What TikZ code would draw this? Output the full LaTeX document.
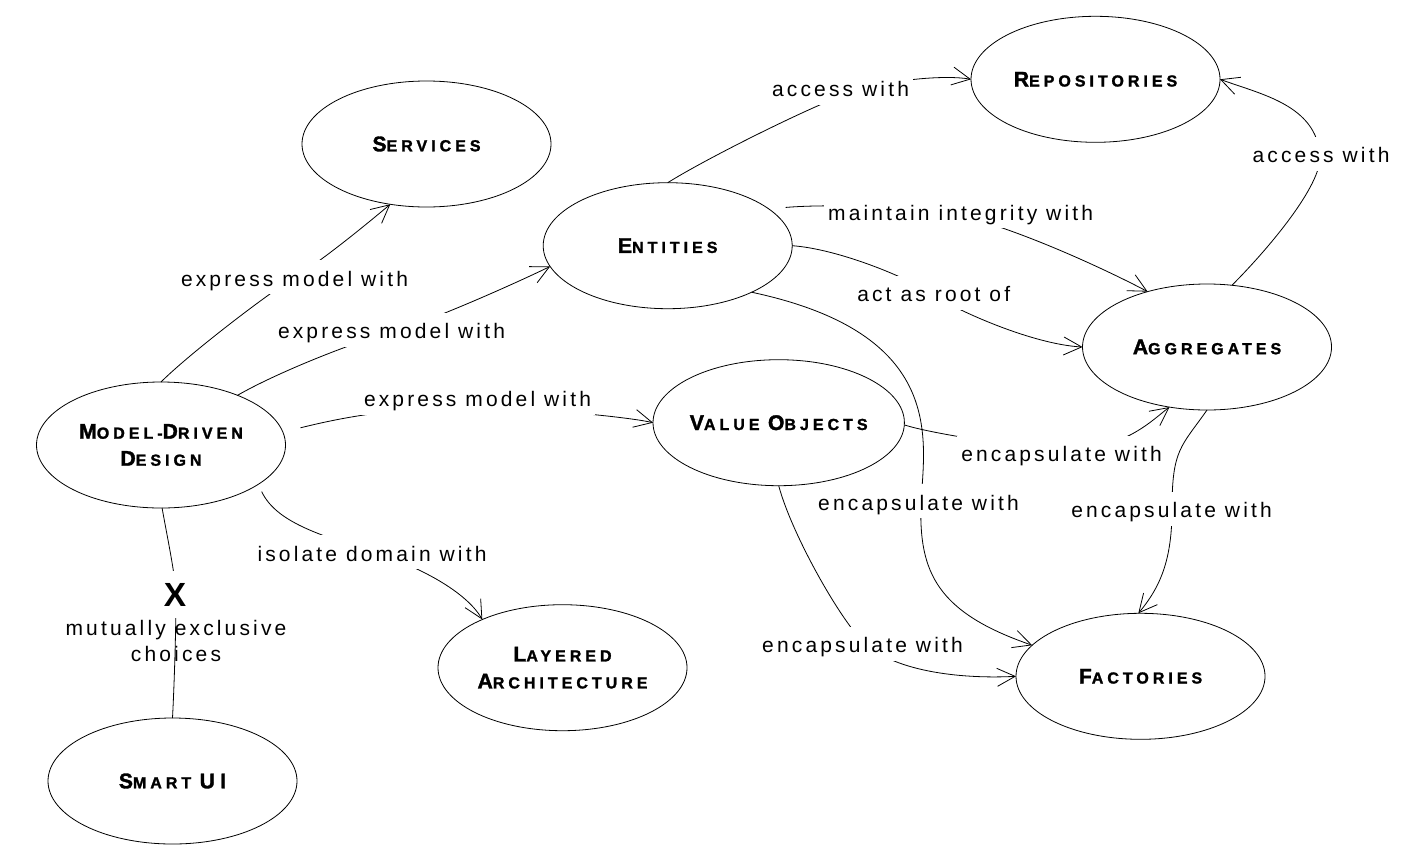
\documentclass[tikz,border=0pt]{standalone}
\usepackage{fontspec}
\setmainfont{Liberation Sans}
\newfontfamily\lblfont[LetterSpace=15]{Liberation Sans}
\newfontfamily\ttlfont[LetterSpace=25,FakeBold=1.6]{Liberation Sans Bold}
\usetikzlibrary{shapes.geometric,arrows.meta}
\pgfdeclarelayer{bg}
\pgfdeclarelayer{edges}
\pgfsetlayers{bg,edges,main}
\newcommand\BigCap[1]{{\fontsize{10.6pt}{12pt}\selectfont #1}}
\begin{document}
\begin{tikzpicture}[x=0.5pt,y=0.5pt,line width=0.5pt,
  concept/.style={ellipse, draw, minimum width=124.5pt, minimum height=63pt,
    inner sep=0pt, outer sep=0pt, align=center,
    font=\ttlfont\fontsize{8pt}{13.5pt}\selectfont},
  lblfnt/.style={font=\lblfont\fontsize{10.5pt}{13.35pt}\selectfont},
  lbl/.style={lblfnt, fill=white, inner xsep=2pt, inner ysep=3.5pt,
    text height=9.3pt, text depth=0.7pt, anchor=base},
  xmark/.style={font=\bfseries\fontsize{16.75pt}{18pt}\selectfont, fill=white,
    inner xsep=1pt, inner ysep=5.75pt, text height=12pt, text depth=0pt, anchor=base},
  arr/.style={-{Straight Barb[length=9pt,width=9pt]}}
]
\useasboundingbox (0,0) rectangle (1411,-862);
\begin{pgfonlayer}{bg}
\fill[white] (0,0) rectangle (1411,-862);
\end{pgfonlayer}

% concepts
\node[concept] (mdd) at (161,-445) {\BigCap{M}ODEL-\BigCap{D}RIVEN\\\BigCap{D}ESIGN};
\node[concept] (services) at (426.5,-144) {\BigCap{S}ERVICES};
\node[concept] (entities) at (667.7,-245.7) {\BigCap{E}NTITIES};
\node[concept] (repositories) at (1095.5,-79.3) {\BigCap{R}EPOSITORIES};
\node[concept] (aggregates) at (1207,-347) {\BigCap{A}GGREGATES};
\node[concept] (vo) at (778.7,-422.7) {\BigCap{V}ALUE \BigCap{O}BJECTS};
\node[concept] (layered) at (562.5,-667.7) {\BigCap{L}AYERED\\\BigCap{A}RCHITECTURE};
\node[concept] (factories) at (1140.5,-676.3) {\BigCap{F}ACTORIES};
\node[concept] (smartui) at (172.5,-781) {\BigCap{S}MART \BigCap{UI}};

% labels
\node[lbl] (l1) at (294.5,-286) {express model with};
\node[lbl] (l2) at (391.5,-338.3) {express model with};
\node[lbl] (l3) at (477.5,-406.7) {express model with};
\node[lbl] (l4) at (372,-561) {isolate domain with};
\node[lbl] (l6) at (840.5,-96.7) {access with};
\node[lbl] (l7) at (960.6,-220) {maintain integrity with};
\node[lbl] (l8) at (933.7,-301.7) {act as root of};
\node[lbl] (l9) at (918.5,-510) {encapsulate with};
\node[lbl] (l10) at (1061.5,-461.7) {encapsulate with};
\node[lbl] (l11) at (1171.5,-517.3) {encapsulate with};
\node[lbl] (l12) at (1321,-162.7) {access with};
\node[lbl] (l13) at (862.5,-652.7) {encapsulate with};
\node[xmark] (xm) at (175,-606.7) {X};
\node[lblfnt, align=center, anchor=base, inner sep=0pt] (excl) at (176,-661.7) {mutually exclusive\\choices};

% connectors
\begin{pgfonlayer}{edges}
\draw[arr] (mdd.90) .. controls +(45:40) and +(211:30) .. (294.5,-277.4)
  .. controls +(31:30) and +(220:35) .. (services.-121);
\draw[arr] (mdd.33) .. controls +(30:45) and +(195:40) .. (391.5,-332)
  .. controls +(15:40) and +(206:35) .. (entities.190);
\draw[arr, shorten <=9pt] (mdd.6) .. controls +(14:90) and +(180:60) .. (478,-408)
  .. controls +(0:60) and +(167:25) .. (vo.180);
\draw[arr, shorten <=4pt] (mdd.-22) .. controls +(-65:45) and +(160:45) .. (372,-552.4)
  .. controls +(-15:40) and +(120:35) .. (layered.149);
\draw (mdd.-89) .. controls +(-80:30) and +(92:20) .. (176,-594.7)
  .. controls +(-90:30) and +(87:40) .. (smartui.90);
\draw[arr] (entities.90) .. controls +(32:50) and +(196:35) .. (858,-90)
  .. controls +(16:40) and +(170:25) .. (repositories.180);
\draw[arr, shorten <=8.5pt] (entities.20) .. controls +(5:50) and +(175:50) .. (930,-210)
  .. controls +(-5:60) and +(152:50) .. (aggregates.137);
\draw[arr] (entities.0) .. controls +(-4:45) and +(146:30) .. (931,-293.5)
  .. controls +(-34:30) and +(177:50) .. (aggregates.180);
\draw[arr] (entities.-29) .. controls +(-12:200) and +(87:63) .. (921,-503)
  .. controls +(-92:70) and +(161:100) .. (factories.164);
\draw[arr] (vo.-1) .. controls +(-18:30) and +(180:40) .. (1070,-449)
  .. controls +(0:55) and +(217:22) .. (aggregates.-122);
\draw[arr] (aggregates.-90) .. controls +(-125:45) and +(90:60) .. (1172,-509)
  .. controls +(-90:50) and +(50:35) .. (factories.92);
\draw[arr] (aggregates.68) .. controls +(45:50) and +(-85:30) .. (1320,-155)
  .. controls +(95:50) and +(-20:45) .. (repositories.0);
\draw[arr] (vo.-90) .. controls +(-75:50) and +(135:35) .. (864,-643)
  .. controls +(-42:45) and +(183:50) .. (factories.180);
\end{pgfonlayer}
\end{tikzpicture}
\end{document}
